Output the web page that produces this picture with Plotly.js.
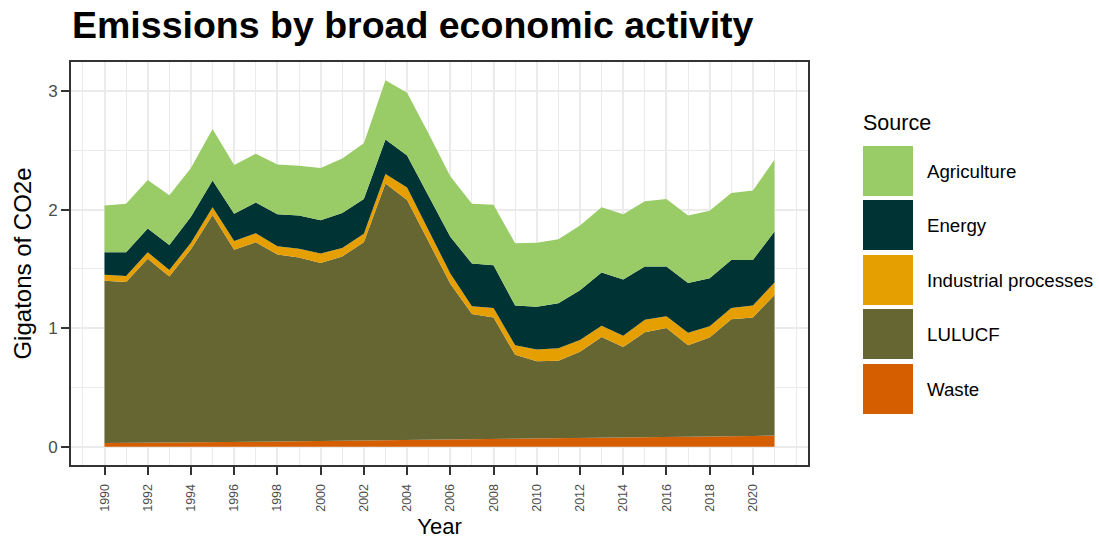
<!DOCTYPE html>
<html>
<head>
<meta charset="utf-8">
<script src="https://cdn.plot.ly/plotly-3.0.1.min.js"></script>
<style>
  html, body { margin: 0; padding: 0; background: #ffffff; }
  #chart { width: 1099px; height: 543px; }
</style>
</head>
<body>
<div id="chart"></div>
<script>
// ---- Data (Gigatons of CO2e) ----
const years = [1990, 1991, 1992, 1993, 1994, 1995, 1996, 1997, 1998, 1999,
               2000, 2001, 2002, 2003, 2004, 2005, 2006, 2007, 2008, 2009,
               2010, 2011, 2012, 2013, 2014, 2015, 2016, 2017, 2018, 2019,
               2020, 2021];

const waste = [0.030, 0.031, 0.033, 0.034, 0.036, 0.038, 0.040, 0.042, 0.044, 0.046,
               0.048, 0.050, 0.052, 0.054, 0.056, 0.058, 0.060, 0.062, 0.063, 0.064,
               0.066, 0.068, 0.070, 0.072, 0.074, 0.076, 0.078, 0.080, 0.082, 0.085,
               0.090, 0.095];

const lulucf = [1.370, 1.359, 1.552, 1.401, 1.629, 1.917, 1.620, 1.683, 1.576, 1.549,
                1.502, 1.555, 1.673, 2.166, 2.024, 1.672, 1.315, 1.058, 1.027, 0.711,
                0.654, 0.657, 0.730, 0.853, 0.766, 0.889, 0.922, 0.775, 0.838, 0.990,
                1.000, 1.185];

const industrial = [0.050, 0.050, 0.055, 0.055, 0.055, 0.065, 0.075, 0.075, 0.070, 0.075,
                    0.080, 0.070, 0.070, 0.080, 0.105, 0.090, 0.085, 0.065, 0.080, 0.080,
                    0.100, 0.105, 0.100, 0.095, 0.095, 0.105, 0.100, 0.105, 0.095, 0.095,
                    0.100, 0.105];

const energy = [0.190, 0.200, 0.200, 0.210, 0.220, 0.225, 0.230, 0.260, 0.270, 0.280,
                0.280, 0.295, 0.295, 0.290, 0.270, 0.295, 0.310, 0.360, 0.360, 0.335,
                0.360, 0.380, 0.420, 0.450, 0.475, 0.450, 0.420, 0.420, 0.405, 0.405,
                0.385, 0.430];

const agriculture = [0.395, 0.410, 0.410, 0.420, 0.410, 0.435, 0.410, 0.410, 0.420, 0.420,
                     0.440, 0.460, 0.470, 0.500, 0.530, 0.525, 0.510, 0.505, 0.510, 0.525,
                     0.540, 0.540, 0.545, 0.550, 0.550, 0.550, 0.570, 0.570, 0.570, 0.565,
                     0.585, 0.605];

const xTickVals = [1990, 1992, 1994, 1996, 1998, 2000, 2002, 2004, 2006, 2008,
                   2010, 2012, 2014, 2016, 2018, 2020];
const xTickText = ["1990", "1992", "1994", "1996", "1998", "2000", "2002", "2004", "2006", "2008",
                   "2010", "2012", "2014", "2016", "2018", "2020"];
const yTickVals = [0, 1, 2, 3];
const yTickText = ["0", "1", "2", "3"];

// Stack order bottom -> top
const seriesNames = ["Waste", "LULUCF", "Industrial processes", "Energy", "Agriculture"];
const seriesValues = [waste, lulucf, industrial, energy, agriculture];
const seriesColors = ["#D55E00", "#666633", "#E69F00", "#003333", "#99CC66"];

// legend order (top -> bottom)
const legendOrder = ["Agriculture", "Energy", "Industrial processes", "LULUCF", "Waste"];

const FONT = "Liberation Sans, Arial, Helvetica, sans-serif";

const traces = seriesNames.map((name, i) => ({
  type: "scatter",
  mode: "lines",
  x: years,
  y: seriesValues[i],
  name: name,
  stackgroup: "one",
  line: { width: 0, color: seriesColors[i] },
  fillcolor: seriesColors[i],
  showlegend: false,
  hoverinfo: "skip"
}));

// ---- Layout geometry (pixels) ----
const W = 1099, H = 543;
const PL = 71, PR = 808, PT = 62, PB = 465;
const px2x = px => (px - PL) / (PR - PL);
const py2y = py => (PB - py) / (PB - PT);

// custom legend
const shapes = [];
const annotations = [];
annotations.push({
  xref: "paper", yref: "paper",
  x: px2x(861), y: py2y(123),
  xanchor: "left", yanchor: "middle",
  text: "Source", showarrow: false,
  font: { family: FONT, size: 21.5, color: "#000000" }
});
const keyTop = [146, 200, 255, 309, 364];
legendOrder.forEach((name, k) => {
  const idx = seriesNames.indexOf(name);
  const top = keyTop[k];
  shapes.push({
    type: "rect", xref: "paper", yref: "paper",
    x0: px2x(863), x1: px2x(913), y0: py2y(top + 50), y1: py2y(top),
    fillcolor: seriesColors[idx], line: { width: 0 }, layer: "above"
  });
  annotations.push({
    xref: "paper", yref: "paper",
    x: px2x(925), y: py2y(top + 25),
    xanchor: "left", yanchor: "middle",
    text: name, showarrow: false,
    font: { family: FONT, size: 18.7, color: "#000000" }
  });
});

const layout = {
  width: W, height: H,
  margin: { l: PL, r: W - PR, t: PT, b: H - PB, pad: 0 },
  paper_bgcolor: "#ffffff",
  plot_bgcolor: "#ffffff",
  font: { family: FONT, color: "#000000" },
  showlegend: false,
  title: {
    text: "<b>Emissions by broad economic activity</b>",
    xref: "container", yref: "container",
    x: 72 / W, xanchor: "left",
    y: 1 - 25 / H, yanchor: "middle",
    font: { family: FONT, size: 37.5, color: "#000000" }
  },
  xaxis: {
    range: [1988.45, 2022.55],
    tickmode: "array",
    tickvals: xTickVals,
    ticktext: xTickText,
    tickangle: -90,
    tickfont: { family: FONT, size: 12.5, color: "#4D4D4D" },
    ticks: "outside", ticklen: 8, tickwidth: 2, tickcolor: "#333333",
    ticklabelstandoff: 4,
    showgrid: true, gridcolor: "#EBEBEB", gridwidth: 2,
    minor: { dtick: 1, tick0: 1990, showgrid: true, gridcolor: "#EBEBEB", gridwidth: 1, ticks: "" },
    zeroline: false,
    showline: true, mirror: true, linecolor: "#333333", linewidth: 2,
    title: { text: "Year", font: { family: FONT, size: 22, color: "#000000" }, standoff: 8 },
    fixedrange: true
  },
  yaxis: {
    range: [-0.1545, 3.2445],
    tickmode: "array",
    tickvals: yTickVals,
    ticktext: yTickText,
    tickfont: { family: FONT, size: 17, color: "#4D4D4D" },
    ticks: "outside", ticklen: 8, tickwidth: 2, tickcolor: "#333333",
    showgrid: true, gridcolor: "#EBEBEB", gridwidth: 2,
    minor: { dtick: 0.5, tick0: 0, showgrid: true, gridcolor: "#EBEBEB", gridwidth: 1, ticks: "" },
    zeroline: false,
    showline: true, mirror: true, linecolor: "#333333", linewidth: 2,
    title: { text: "Gigatons of CO2e", font: { family: FONT, size: 24, color: "#000000" }, standoff: 10 },
    fixedrange: true
  },
  shapes: shapes,
  annotations: annotations
};

Plotly.newPlot("chart", traces, layout, { staticPlot: true, displayModeBar: false });
</script>
</body>
</html>
